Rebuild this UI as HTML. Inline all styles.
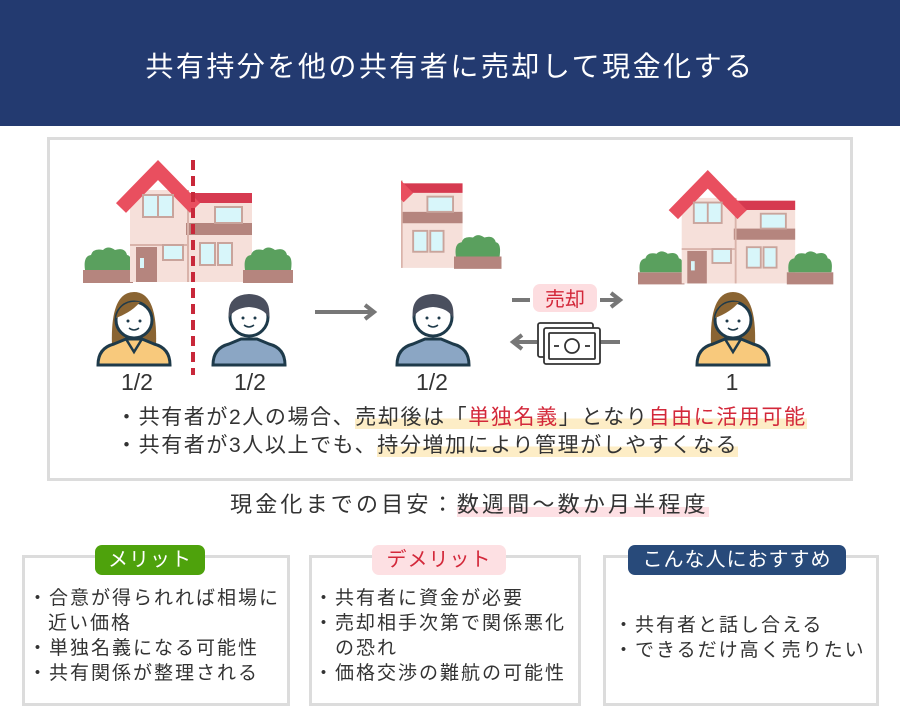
<!DOCTYPE html>
<html><head><meta charset="utf-8"><style>
*{margin:0;padding:0;box-sizing:border-box}
body{width:900px;height:720px;background:#fff;position:relative;overflow:hidden;font-family:"Liberation Sans","Noto Sans CJK JP",sans-serif;color:#333}
.a{position:absolute;white-space:nowrap}
.hl{background:linear-gradient(transparent 55%,#fdedc6 55%)}
.pk{background:linear-gradient(transparent 60%,#fde0e4 60%)}
.red{color:#d3283a}
.box{position:absolute;border:3px solid #dcdcdc;background:#fff}
.tag{position:absolute;height:30px;border-radius:7px;font-size:20px;letter-spacing:1px;line-height:30px;text-align:center}
.li{position:absolute;font-size:19px;letter-spacing:2px;line-height:25px;white-space:nowrap}
</style></head><body>
<div class="a" style="left:0;top:0;width:900px;height:126px;background:#233a70"></div>
<div class="a" style="left:0;top:47px;width:900px;text-align:center;color:#fff;font-size:28px;letter-spacing:2.5px;line-height:40px">共有持分を他の共有者に売却して現金化する</div>
<div class="box" style="left:47px;top:137px;width:806px;height:344px"></div>

<svg class="a" style="left:0;top:0" width="900" height="480" viewBox="0 0 900 480">
<defs>
<g id="house">
 <rect x="0" y="110" width="50" height="13" fill="#b5857e"/>
 <path d="M2 110 Q0 96 8 95 Q10 88 20 90 Q25 85 32 90 Q42 87 44 95 Q50 96 48 110Z" fill="#5aa05e"/>
 <rect x="47" y="30" width="58" height="92" fill="#f6e0da"/>
 <rect x="47" y="84" width="58" height="2" fill="#d9b3aa"/>
 <rect x="105" y="33" width="64" height="89" fill="#f6e0da"/>
 <rect x="105" y="33" width="64" height="10" fill="#d63a50"/>
 <rect x="103" y="63" width="66" height="12" fill="#b5857e"/>
 <rect x="104" y="30" width="2" height="92" fill="#d9b3aa"/>
 <polyline points="38,48 75,10 112,48" fill="none" stroke="#e94f5f" stroke-width="14" stroke-linejoin="miter"/>
 <rect x="60" y="35" width="30" height="22" fill="#d8f6fa" stroke="#c9a49c" stroke-width="2"/>
 <line x1="75" y1="35" x2="75" y2="57" stroke="#c9a49c" stroke-width="2"/>
 <rect x="53" y="87" width="21" height="35" fill="#b5857e"/>
 <rect x="57" y="98" width="4" height="10" fill="#d8f6fa"/>
 <rect x="80" y="85" width="20" height="15" fill="#d8f6fa" stroke="#c9a49c" stroke-width="2"/>
 <rect x="132" y="47" width="27" height="16" fill="#d8f6fa" stroke="#c9a49c" stroke-width="2"/>
 <rect x="117" y="83" width="15" height="22" fill="#d8f6fa" stroke="#c9a49c" stroke-width="2"/>
 <rect x="135" y="83" width="14" height="22" fill="#d8f6fa" stroke="#c9a49c" stroke-width="2"/>
 <rect x="160" y="110" width="50" height="13" fill="#b5857e"/>
 <path d="M162 110 Q160 96 168 95 Q170 88 180 90 Q185 85 192 90 Q202 87 204 95 Q210 96 208 110Z" fill="#5aa05e"/>
</g>
<g id="man">
 <path d="M2 75 Q2 58 18 54 L30 49 L46 49 L58 54 Q74 58 74 75Z" fill="#8ba6c4" stroke="#1e3a4a" stroke-width="3"/>
 <circle cx="38" cy="27" r="19" fill="#fff" stroke="#1e3a4a" stroke-width="3"/>
 <path d="M18 28 Q15 5 38 4 Q61 5 58 28 Q53 18 38 17 Q23 18 18 28Z" fill="#4a4f5e"/>
 <circle cx="32" cy="28" r="1.5" fill="#1e3a4a"/><circle cx="44" cy="28" r="1.5" fill="#1e3a4a"/>
 <path d="M33 35 Q38 39 43 35" fill="none" stroke="#1e3a4a" stroke-width="1.5"/>
</g>
<g id="woman">
 <path d="M16 56 Q14 2 38 2 Q62 2 60 56Z" fill="#8a6432"/>
 <path d="M2 75 Q2 58 18 54 L30 49 L46 49 L58 54 Q74 58 74 75Z" fill="#f8c97c" stroke="#1e3a4a" stroke-width="3"/>
 <path d="M30 49 L38 62 L46 49" fill="none" stroke="#1e3a4a" stroke-width="2.5"/>
 <circle cx="38" cy="30" r="18" fill="#fff" stroke="#1e3a4a" stroke-width="3"/>
 <path d="M20 28 Q24 10 44 12 Q36 22 20 28Z" fill="#8a6432"/>
 <circle cx="32" cy="31" r="1.5" fill="#1e3a4a"/><circle cx="44" cy="31" r="1.5" fill="#1e3a4a"/>
 <path d="M33 38 Q38 42 43 38" fill="none" stroke="#1e3a4a" stroke-width="1.5"/>
</g>
<clipPath id="mc"><rect x="401" y="150" width="115" height="140"/></clipPath>
</defs>
<use href="#house" transform="translate(83,160)"/>
<use href="#house" transform="translate(638,170) scale(0.93)"/>
<g clip-path="url(#mc)"><use href="#house" transform="translate(302,152) scale(0.95)"/></g>
<polygon points="402,182 402,198 411,194" fill="#e94f5f"/>
<use href="#woman" transform="translate(96,290)"/>
<use href="#man" transform="translate(211,290)"/>
<use href="#man" transform="translate(395,290)"/>
<use href="#woman" transform="translate(695,290)"/>
<line x1="193" y1="160" x2="193" y2="375" stroke="#c8283a" stroke-width="4" stroke-dasharray="10,6"/>
<g stroke="#777" stroke-width="4" fill="none">
 <line x1="315" y1="312" x2="373" y2="312"/><polyline points="365,305 374,312 365,319"/>
 <line x1="512" y1="300" x2="530" y2="300"/><line x1="600" y1="300" x2="619" y2="300"/><polyline points="611,293 620,300 611,307"/>
 <line x1="514" y1="342" x2="537" y2="342"/><line x1="600" y1="342" x2="620" y2="342"/><polyline points="522,335 513,342 522,349"/>
</g>
<rect x="533" y="284" width="64" height="28" rx="7" fill="#fddde0"/>
<text x="565" y="306" text-anchor="middle" font-size="20" fill="#d3283a" font-family="Liberation Sans,Noto Sans CJK JP,sans-serif">売却</text>
<g fill="#fff" stroke="#333" stroke-width="1.8">
 <rect x="538" y="323" width="55" height="34" rx="2"/>
 <rect x="544" y="328" width="56" height="36" rx="2"/>
 <rect x="549" y="333" width="46" height="26" rx="1"/>
 <circle cx="572" cy="346" r="7"/>
 <line x1="554" y1="346" x2="559" y2="346"/><line x1="585" y1="346" x2="590" y2="346"/>
</g>
<g font-size="23" fill="#333" text-anchor="middle" font-family="Liberation Sans,sans-serif">
<text x="137" y="390">1/2</text><text x="250" y="390">1/2</text><text x="432" y="390">1/2</text><text x="732" y="390">1</text>
</g>
</svg>

<div class="a" style="left:116px;top:404px;font-size:21px;letter-spacing:1.6px;line-height:28px">・共有者が2人の場合、<span class="hl">売却後は「<span class="red">単独名義</span>」となり<span class="red">自由に活用可能</span></span></div>
<div class="a" style="left:116px;top:432px;font-size:21px;letter-spacing:1.6px;line-height:28px">・共有者が3人以上でも、<span class="hl">持分増加により管理がしやすくなる</span></div>
<div class="a" style="left:230px;top:489px;font-size:22px;letter-spacing:3.2px;line-height:32px">現金化までの目安：<span class="pk">数週間〜数か月半程度</span></div>

<div class="box" style="left:22px;top:555px;width:268px;height:151px"></div>
<div class="box" style="left:309px;top:555px;width:272px;height:151px"></div>
<div class="box" style="left:603px;top:555px;width:276px;height:151px"></div>
<div class="tag" style="left:95px;top:545px;width:110px;background:#4ea20c;color:#fff">メリット</div>
<div class="tag" style="left:372px;top:545px;width:134px;background:#fde0e3;color:#d3283a">デメリット</div>
<div class="tag" style="left:628px;top:545px;width:218px;background:#284a7a;color:#fff">こんな人におすすめ</div>

<div class="li" style="left:28px;top:586px">・合意が得られれば相場に</div>
<div class="li" style="left:48px;top:611px">近い価格</div>
<div class="li" style="left:28px;top:636px">・単独名義になる可能性</div>
<div class="li" style="left:28px;top:661px">・共有関係が整理される</div>

<div class="li" style="left:314px;top:586px">・共有者に資金が必要</div>
<div class="li" style="left:314px;top:611px">・売却相手次第で関係悪化</div>
<div class="li" style="left:335px;top:636px">の恐れ</div>
<div class="li" style="left:314px;top:661px">・価格交渉の難航の可能性</div>

<div class="li" style="left:614px;top:613px">・共有者と話し合える</div>
<div class="li" style="left:614px;top:638px">・できるだけ高く売りたい</div>
</body></html>
